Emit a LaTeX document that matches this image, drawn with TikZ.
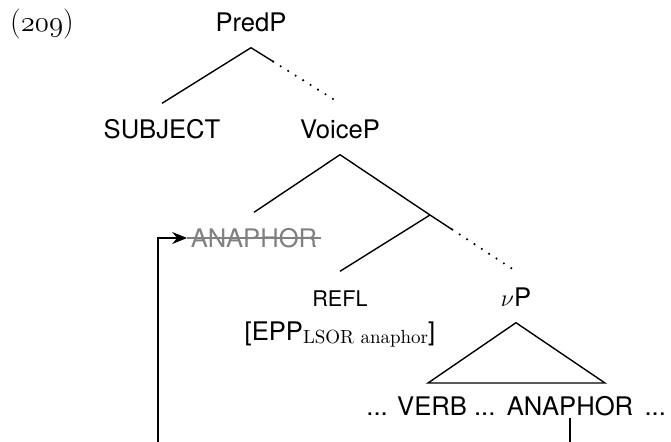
\documentclass[tikz,border=0pt]{standalone}
\usepackage{fontspec}
\setsansfont{TeX Gyre Heros}
\usetikzlibrary{calc,arrows.meta}

\begin{document}
\begin{tikzpicture}[x=0.5pt,y=-0.5pt,line width=0.7pt,
    lbl/.style={font=\sffamily\fontsize{12.8}{15}\selectfont,anchor=base,
      text height=9pt,text depth=0pt,inner xsep=1.5pt,inner ysep=8pt},
    small/.style={lbl,font=\sffamily\fontsize{10.8}{12}\selectfont},
    dots/.style={dash pattern=on 0pt off 4.4pt,line cap=round,line width=1.2pt}]
  \useasboundingbox (0,0) rectangle (671,441);
  % example number
  \node[anchor=base] (exnum) at (42,31)
    {\fontsize{15}{17}\selectfont ({\usefont{OML}{cmm}{m}{it}209})};
  % tree
  \node[lbl] (predp) at (251,31) {PredP};
  \node[lbl] (subj) at (162,138) {SUBJECT};
  \node[lbl] (voicep) at (340,138) {VoiceP};
  \node[lbl,text=gray] (trace) at (254,247) {ANAPHOR};
  \coordinate (vbar) at (430,215);
  \node[small] (refl) at (340,306) {REFL};
  \node[lbl,inner ysep=0pt] (epp) at (340,340)
    {[EPP\raisebox{-1.5pt}{\rmfamily\fontsize{9.5}{11}\selectfont LSOR anaphor}]};
  \node[lbl] (vp) at (516,306) {$\nu$P};
  \coordinate (tl) at (428,383);
  \coordinate (tr) at (605,383);
  \node[lbl] (anaph) at (570,415) {ANAPHOR};
  \node[lbl,anchor=base east,inner xsep=0pt] (verb) at ([xshift=-3.5pt]anaph.base west) {... VERB ...};
  \node[lbl,anchor=base west,inner xsep=0pt] (dotsr) at ([xshift=3.5pt]anaph.base east) {...};

  \draw (predp.south) -- (subj.north);
  \draw (predp.south) -- ($(predp.south)!0.25!(voicep.north)$);
  \draw[dots] ($(predp.south)!0.25!(voicep.north)$) -- (voicep.north);
  \draw (voicep.south) -- (trace.north);
  \draw (voicep.south) -- (vbar);
  \draw (vbar) -- (refl.north);
  \draw (vbar) -- ($(vbar)!0.26!(vp.north)$);
  \draw[dots] ($(vbar)!0.26!(vp.north)$) -- (vp.north);
  \draw (vp.south) -- (tl) -- (tr) -- cycle;
  % strike-through of the trace
  \draw[gray] (trace.west) -- (trace.east);
  % movement
  \begin{scope}
    \clip (0,0) rectangle (671,441);
    \draw[-{Stealth[length=7.5pt,width=6pt,inset=2.5pt]}]
      ([yshift=-1.5pt]anaph.base) -- ++(0,40) -| ([xshift=-14.5pt]trace.west) -- (trace.west);
  \end{scope}
\end{tikzpicture}
\end{document}
